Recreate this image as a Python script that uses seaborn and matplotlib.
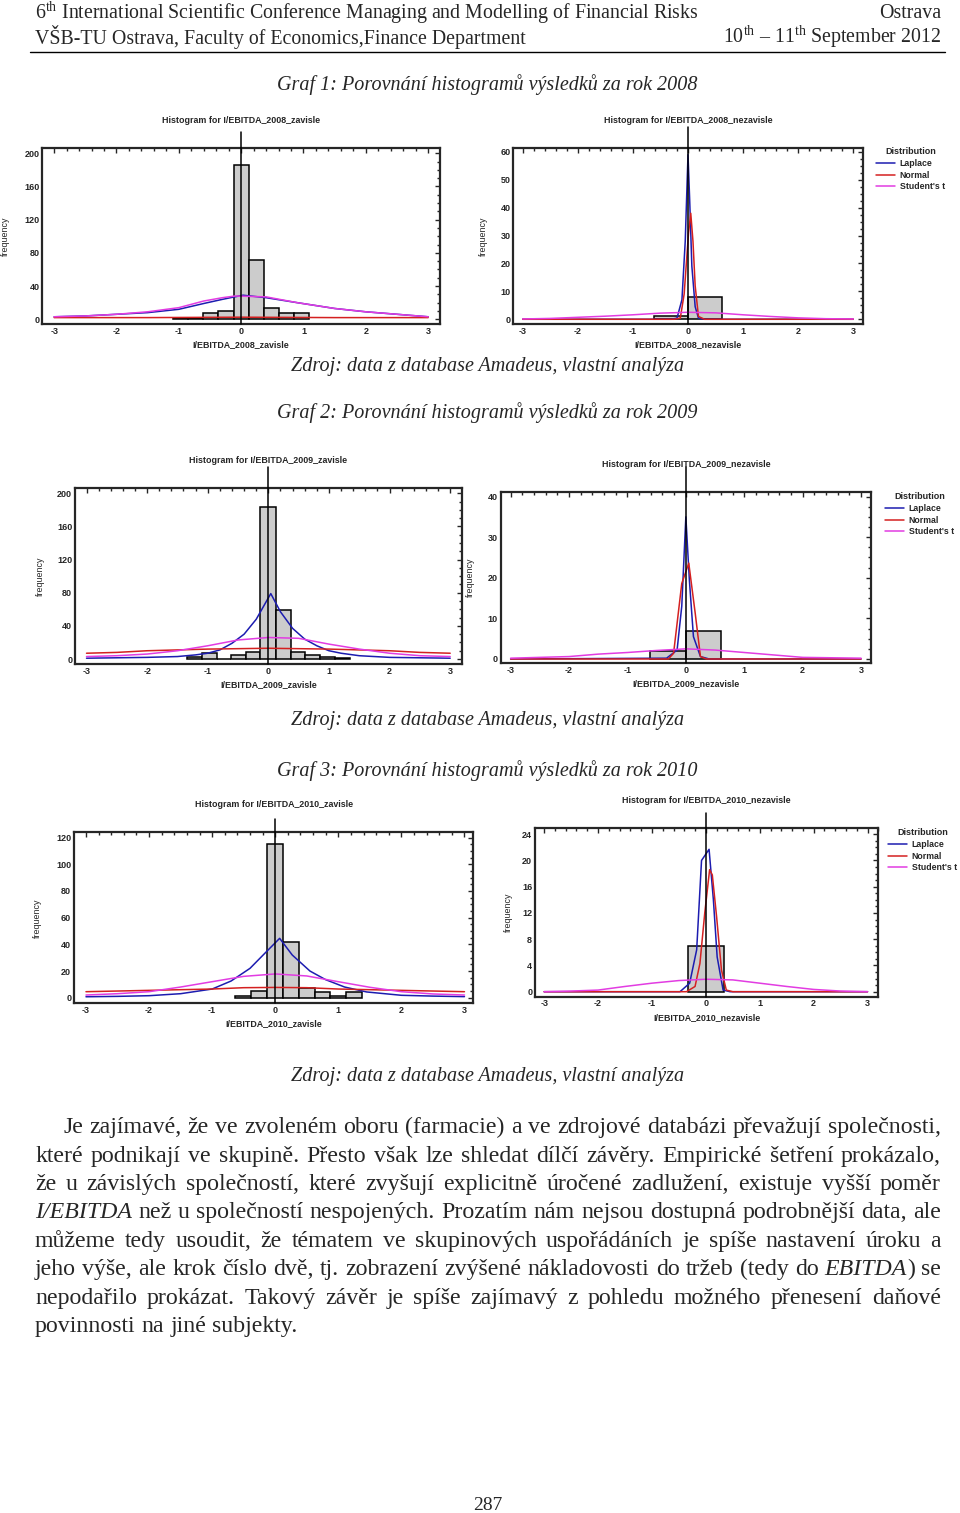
import matplotlib
matplotlib.use("Agg")
import matplotlib.pyplot as plt
from matplotlib.ticker import MultipleLocator, AutoMinorLocator
import seaborn as sns

# ---- histogram bins (edges) and counts ----
edges_08z = [-1.09, -0.85, -0.61, -0.37, -0.12, 0.12, 0.37, 0.61, 0.85, 1.09]
counts_08z = [2, 2, 7, 10, 186, 71, 13, 7, 7]
edges_08n = [-0.61, 0.0, 0.61]
counts_08n = [1, 8]
edges_09z = [-1.35, -1.1, -0.85, -0.61, -0.37, -0.13, 0.12, 0.37, 0.61, 0.86, 1.1, 1.35]
counts_09z = [3, 7, 0, 5, 8, 184, 59, 8, 5, 3, 1]
edges_09n = [-0.61, 0.0, 0.61]
counts_09n = [2, 7]
edges_10z = [-0.63, -0.38, -0.125, 0.125, 0.375, 0.625, 0.875, 1.125, 1.375]
counts_10z = [1, 5, 115, 42, 7, 4, 1, 4]
edges_10n = [-0.33, 0.34]
counts_10n = [7]

# ---- fitted curves (Laplace / Normal / Student's t) ----
grid = [-3, -2.5, -2, -1.5, -1, -0.5, 0, 0.5, 1, 1.5, 2, 2.5, 3]

lap_08z_x = [-3, -2.5, -2, -1.5, -1, -0.6, -0.3, 0.03, 0.4, 0.9, 1.5, 2, 2.5, 3]
lap_08z_y = [3, 4, 6, 8, 12, 19, 24, 29, 26, 20, 13, 9, 6, 3]
nor_08z_x = [-3, -1.5, 0, 1.5, 3]
nor_08z_y = [2, 2, 2.5, 2, 2]
stu_08z_x = [-3, -2.5, -2, -1.5, -1, -0.6, -0.3, -0.1, 0.4, 0.9, 1.5, 2, 2.5, 3]
stu_08z_y = [3, 4, 6, 9, 14, 22, 26, 28, 27, 20, 13, 9, 6, 3]

lap_08n_x = [-3, -0.3, -0.2, -0.11, -0.05, 0, 0.03, 0.07, 0.13, 0.19, 0.3, 3]
lap_08n_y = [0, 0, 0.4, 7, 28, 59, 43, 19, 4.5, 0.4, 0, 0]
nor_08n_x = [-3, -0.25, -0.14, -0.07, 0.01, 0.05, 0.09, 0.13, 0.19, 0.3, 3]
nor_08n_y = [0, 0, 0.4, 9, 31, 38, 28, 12, 1, 0, 0]
stu_08n_y = [0.1, 0.3, 0.7, 1.1, 1.6, 2.2, 2.5, 2.3, 1.6, 1.0, 0.5, 0.2, 0.1]

lap_09z_x = [-3, -2.5, -2, -1.5, -1.2, -1, -0.8, -0.6, -0.4, -0.2, 0.04, 0.2, 0.4, 0.6, 0.8, 1, 1.2, 1.5, 2, 2.5, 3]
lap_09z_y = [1, 1.5, 2, 3, 5, 7, 11, 19, 30, 48, 79, 57, 37, 24, 16, 10, 7, 4, 2, 1.5, 1]
nor_09z_y = [7, 8, 10, 11, 12, 12.5, 13, 12.5, 12, 11, 10, 8, 7]
stu_09z_y = [3, 4, 6, 10, 16, 23, 26, 25, 18, 12, 7, 4, 3]

lap_09n_x = [-3, -0.33, -0.15, -0.07, 0, 0.06, 0.13, 0.25, 0.4, 3]
lap_09n_y = [0, 0.2, 2.2, 13, 35, 19.5, 5.5, 0.6, 0, 0]
nor_09n_x = [-3, -0.3, -0.21, -0.07, 0.05, 0.16, 0.25, 0.35, 3]
nor_09n_y = [0, 0, 1.4, 18.6, 23.6, 11.3, 0.6, 0, 0]
stu_09n_y = [0.2, 0.4, 0.6, 1.2, 1.6, 2.1, 2.5, 2.2, 1.6, 1.0, 0.4, 0.3, 0.2]

lap_10z_x = [-3, -2.5, -2, -1.5, -1, -0.7, -0.4, -0.15, 0.07, 0.27, 0.55, 0.8, 1.1, 1.45, 2, 2.5, 3]
lap_10z_y = [0.7, 1, 1.5, 3, 6.5, 12.5, 22, 34, 44.5, 32, 20, 13.5, 8, 4.3, 1.8, 1.2, 0.8]
nor_10z_y = [4.5, 5, 5.5, 6, 6.5, 7.5, 7.7, 7.5, 6.5, 6, 5.5, 5, 4.5]
stu_10z_y = [2, 3, 4.5, 8, 12, 16, 17.8, 16.3, 12, 7.8, 4.5, 2.8, 2]

lap_10n_x = [-3, -0.48, -0.3, -0.17, -0.08, 0.06, 0.14, 0.21, 0.32, 0.45, 3]
lap_10n_y = [0, 0, 1.3, 6.4, 20, 21.7, 14, 5.3, 0.25, 0, 0]
nor_10n_x = [-3, -0.36, -0.2, -0.11, -0.02, 0.07, 0.12, 0.2, 0.29, 0.38, 0.5, 3]
nor_10n_y = [0, 0, 0.8, 4.3, 12, 18.6, 17.8, 11.4, 3.3, 0.25, 0, 0]
stu_10n_y = [0, 0.1, 0.25, 0.8, 1.3, 1.7, 1.9, 1.8, 1.3, 0.8, 0.35, 0.1, 0]

dist_labels = ["Laplace", "Normal", "Student's t"]

# ---- page text ----
header_left = ["6$^{\\mathrm{th}}$ International Scientific Conference Managing and Modelling of Financial Risks",
               "VŠB-TU Ostrava, Faculty of Economics,Finance Department"]
header_right = ["Ostrava", "10$^{\\mathrm{th}}$ – 11$^{\\mathrm{th}}$ September 2012"]
graf_titles = ["Graf 1: Porovnání histogramů výsledků za rok 2008",
               "Graf 2: Porovnání histogramů výsledků za rok 2009",
               "Graf 3: Porovnání histogramů výsledků za rok 2010"]
source_note = "Zdroj: data z database Amadeus, vlastní analýza"
paragraph = [
    "Je zajímavé, že ve zvoleném oboru (farmacie) a ve zdrojové databázi převažují společnosti,",
    "které podnikají ve skupině. Přesto však lze shledat dílčí závěry. Empirické šetření prokázalo,",
    "že u závislých společností, které zvyšují explicitně úročené zadlužení, existuje vyšší poměr",
    "*I/EBITDA* než u společností nespojených. Prozatím nám nejsou dostupná podrobnější data, ale",
    "můžeme tedy usoudit, že tématem ve skupinových uspořádáních je spíše nastavení úroku a",
    "jeho výše, ale krok číslo dvě, tj. zobrazení zvýšené nákladovosti do tržeb (tedy do *EBITDA*) se",
    "nepodařilo prokázat. Takový závěr je spíše zajímavý z pohledu možného přenesení daňové",
    "povinnosti na jiné subjekty.",
]
page_number = "287"

sns.set_style("white")
plt.rcParams["font.family"] = ["Liberation Sans", "DejaVu Sans"]
plt.rcParams["axes.unicode_minus"] = False
plt.rcParams["mathtext.fontset"] = "custom"
plt.rcParams["mathtext.rm"] = "Liberation Serif"
plt.rcParams["mathtext.it"] = "Liberation Serif:italic"

W, H = 960, 1513
fig = plt.figure(figsize=(9.6, 15.13), dpi=100)
fig.patch.set_facecolor("white")
colors = ["#1c1cb0", "#d42020", "#e23ce2"]
SERIF = "Liberation Serif"


def fx(px):
    return px / W


def fy(py):
    return 1 - py / H


def draw_panel(box, edges, counts, curves, xlim, ylim, ystep, name, ylab_x, vtop, legend_at=None):
    l, t, r, b = box
    ax = fig.add_axes([l / W, 1 - b / H, (r - l) / W, (b - t) / H])
    centers = [(a + c) / 2 for a, c in zip(edges[:-1], edges[1:])]
    sns.histplot(x=centers, weights=counts, bins=edges, color="#cccccc",
                 edgecolor="black", linewidth=1.1, alpha=1, ax=ax, zorder=1)
    for (cx, cy), col, lab in zip(curves, colors, dist_labels):
        sns.lineplot(x=cx, y=cy, color=col, linewidth=1.1, ax=ax, label=lab, zorder=3)
    handles, labels = ax.get_legend_handles_labels()
    if ax.get_legend() is not None:
        ax.get_legend().remove()
    ax.axvline(0, ymin=0, ymax=vtop, color="black", linewidth=1.1, clip_on=False, zorder=4)
    ax.set_xlim(*xlim)
    ax.set_ylim(*ylim)
    ax.xaxis.set_major_locator(MultipleLocator(1))
    ax.xaxis.set_minor_locator(AutoMinorLocator(5))
    ax.yaxis.set_major_locator(MultipleLocator(ystep))
    ax.yaxis.set_minor_locator(AutoMinorLocator(4))
    ax.tick_params(which="both", direction="in", top=True, right=True, width=1,
                   labelsize=6.5, pad=2)
    ax.tick_params(which="major", length=3.5)
    ax.tick_params(which="minor", length=2)
    for lab in ax.get_xticklabels() + ax.get_yticklabels():
        lab.set_fontweight("bold")
    for sp in ax.spines.values():
        sp.set_linewidth(1.6)
        sp.set_visible(True)
    ax.set_title("Histogram for " + name, fontsize=6.4, fontweight="bold", pad=18)
    ax.set_xlabel(name, fontsize=6.4, fontweight="bold", labelpad=3)
    ax.set_ylabel("frequency", fontsize=6.4)
    ax.yaxis.set_label_coords(ylab_x, 0.5)
    if legend_at is not None:
        fig.legend(handles, labels, title="Distribution", loc="upper left",
                   bbox_to_anchor=(fx(legend_at[0]), fy(legend_at[1])),
                   frameon=False, prop={"size": 6.3, "weight": "bold"},
                   title_fontproperties={"size": 6.5, "weight": "bold"},
                   handlelength=2.2, handletextpad=0.5, labelspacing=0.32,
                   borderpad=0, borderaxespad=0)
    return ax


draw_panel((42.3, 147.7, 440, 324), edges_08z, counts_08z,
           [(lap_08z_x, lap_08z_y), (nor_08z_x, nor_08z_y), (stu_08z_x, stu_08z_y)],
           (-3.19, 3.19), (-5.7, 206.7), 40, "I/EBITDA_2008_zavisle", -0.0825, 1.09)
draw_panel((513.3, 147.7, 862.7, 324), edges_08n, counts_08n,
           [(lap_08n_x, lap_08n_y), (nor_08n_x, nor_08n_y), (grid, stu_08n_y)],
           (-3.17, 3.17), (-1.7, 61.5), 10, "I/EBITDA_2008_nezavisle", -0.074, 1.12,
           legend_at=(876, 147))
draw_panel((75, 487.7, 461.7, 664), edges_09z, counts_09z,
           [(lap_09z_x, lap_09z_y), (grid, nor_09z_y), (grid, stu_09z_y)],
           (-3.19, 3.19), (-6, 206.8), 40, "I/EBITDA_2009_zavisle", -0.079, 1.12)
draw_panel((500.7, 491.7, 871, 663.3), edges_09n, counts_09n,
           [(lap_09n_x, lap_09n_y), (nor_09n_x, nor_09n_y), (grid, stu_09n_y)],
           (-3.17, 3.17), (-1.06, 41.2), 10, "I/EBITDA_2009_nezavisle", -0.071, 1.146,
           legend_at=(885, 492))
draw_panel((74, 832.3, 473.3, 1003.3), edges_10z, counts_10z,
           [(lap_10z_x, lap_10z_y), (grid, nor_10z_y), (grid, stu_10z_y)],
           (-3.19, 3.14), (-4.2, 124), 20, "I/EBITDA_2010_zavisle", -0.080, 1.08)
draw_panel((535, 828.3, 878.3, 996.7), edges_10n, counts_10n,
           [(lap_10n_x, lap_10n_y), (nor_10n_x, nor_10n_y), (grid, stu_10n_y)],
           (-3.17, 3.2), (-0.76, 24.9), 4, "I/EBITDA_2010_nezavisle", -0.065, 1.093,
           legend_at=(888, 828))

# ---- header ----
for txt, py in zip(header_left, [13, 37]):
    fig.text(fx(35), fy(py), txt, family=SERIF, fontsize=14.3, va="center", ha="left")
for txt, py in zip(header_right, [13, 37]):
    fig.text(fx(941), fy(py), txt, family=SERIF, fontsize=14.3, va="center", ha="right")
fig.add_artist(plt.Line2D([fx(30), fx(945)], [fy(52), fy(52)], color="black", linewidth=1))

# ---- chart captions ----
for txt, py in zip(graf_titles, [85, 413, 771]):
    fig.text(0.508, fy(py), txt, family=SERIF, style="italic", fontsize=14.5,
             va="center", ha="center")
for py in [367, 720, 1077]:
    fig.text(0.508, fy(py), source_note, family=SERIF, style="italic", fontsize=14.5,
             va="center", ha="center")

# ---- justified paragraph ----
renderer = fig.canvas.get_renderer()
PSIZE = 17.2


def parse(line):
    words = []
    italic = False
    for raw in line.split(" "):
        pieces = []
        for i, p in enumerate(raw.split("*")):
            if i > 0:
                italic = not italic
            if p:
                pieces.append((p, italic))
        words.append(pieces)
    return words


def place_line(line, py, x0, x1, justify):
    words = parse(line)
    objs, widths = [], []
    for w in words:
        pieces, wsum = [], 0
        for txt, it in w:
            # baseline alignment keeps words without ascenders on the same line
            t = fig.text(0, fy(py + 6), txt, family=SERIF, fontsize=PSIZE,
                         style="italic" if it else "normal", va="baseline", ha="left")
            pw = t.get_window_extent(renderer).width
            pieces.append((t, pw))
            wsum += pw
        objs.append(pieces)
        widths.append(wsum)
    gap = (x1 - x0 - sum(widths)) / (len(words) - 1) if justify else PSIZE * 1.389 * 0.25
    x = x0
    for pieces in objs:
        for t, pw in pieces:
            t.set_x(fx(x))
            x += pw
        x += gap


line_y = [1127, 1156, 1184, 1212, 1241, 1269, 1298, 1326]
for i, (line, py) in enumerate(zip(paragraph, line_y)):
    place_line(line, py, 63 if i == 0 else 35, 941, i < len(paragraph) - 1)

fig.text(0.508, fy(1505), page_number, family=SERIF, fontsize=14, va="center", ha="center")

fig.savefig("out.png", dpi=100)
